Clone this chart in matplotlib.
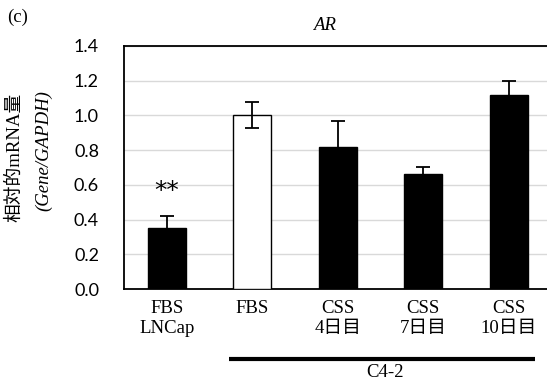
import numpy as np
import matplotlib.pyplot as plt
from matplotlib import transforms

labels = ['FBS\nLNCap', 'FBS', 'CSS\n4日目', 'CSS\n7日目', 'CSS\n10日目']
values = [0.35, 1.00, 0.82, 0.66, 1.12]
errors = [0.07, 0.075, 0.145, 0.04, 0.08]
colors = ['black', 'white', 'black', 'black', 'black']

serif_jp = ['Liberation Serif', 'Noto Sans CJK JP']

fig = plt.figure(figsize=(5.47, 3.87), dpi=100)
ax = fig.add_axes([0.2267, 0.2532, 0.7815, 0.628])

x = np.arange(len(values))
ax.bar(x, values, width=0.45, color=colors, edgecolor='black', linewidth=1, zorder=3)
ax.errorbar(x, values, yerr=errors, fmt='none', ecolor='black', elinewidth=1.3,
            capsize=5, capthick=1.3, zorder=4)

ax.set_xlim(-0.5, 4.5)
ax.set_ylim(0, 1.4)
ax.set_yticks(np.arange(0, 1.41, 0.2))
ax.set_yticklabels([f'{v:.1f}' for v in np.arange(0, 1.41, 0.2)], family='Lato', fontsize=13)
ax.yaxis.grid(True, color='#d9d9d9', linewidth=1, zorder=0)
ax.set_axisbelow(True)
ax.tick_params(axis='y', length=0, pad=18)
ax.tick_params(axis='x', length=0, pad=8)
ax.set_xticks(x)
ax.set_xticklabels(labels, family=serif_jp, fontsize=13.5, linespacing=1.2)

for side in ['left', 'top', 'bottom']:
    ax.spines[side].set_linewidth(1.3)
ax.spines['right'].set_visible(False)

# significance mark
ax.text(0, values[0] + errors[0] + 0.145, '**', ha='center', va='center',
        family='DejaVu Sans', fontsize=18)

# group line under C4-2
trans = transforms.blended_transform_factory(ax.transData, ax.transAxes)
ax.plot([1 - 0.27, 4 + 0.31], [-0.288, -0.288], color='black', linewidth=3,
        transform=trans, clip_on=False, solid_capstyle='butt')
ax.text(2.55, -0.345, 'C4-2', transform=trans, ha='center', va='center',
        family='Liberation Serif', fontsize=13.5)

# y label (two lines)
fig.text(15 / 547, 1 - 157 / 387, '相対的mRNA量', rotation=90, ha='center', va='center',
         family=serif_jp, fontsize=13.5)
fig.text(44 / 547, 1 - 151 / 387, '(Gene/GAPDH)', rotation=90, ha='center', va='center',
         family='Liberation Serif', style='italic', fontsize=13.5)

fig.text(325 / 547, 1 - 25 / 387, 'AR', ha='center', va='center',
         family='Liberation Serif', style='italic', fontsize=13.5)
fig.text(7 / 547, 1 - 17 / 387, '(c)', ha='left', va='center',
         family='Liberation Serif', fontsize=13.5)

fig.savefig('out.png', dpi=100)
